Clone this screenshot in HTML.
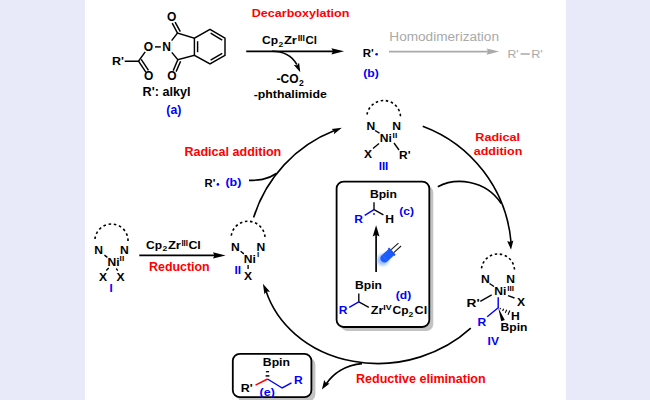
<!DOCTYPE html>
<html><head><meta charset="utf-8">
<style>
html,body{margin:0;padding:0;width:650px;height:400px;overflow:hidden;background:#e8eaf9}
svg{display:block}
text{font-family:"Liberation Sans",sans-serif;font-weight:bold}
</style></head><body>
<svg width="650" height="400" viewBox="0 0 650 400">
<defs><filter id="blur1" x="-80%" y="-80%" width="260%" height="260%"><feGaussianBlur stdDeviation="1.5"/></filter></defs>
<rect width="650" height="400" fill="#e8eaf9"/>
<rect x="85" y="0" width="481" height="400" fill="#fff"/>
<path d="M124.70,61.20 L138.50,61.20 L145.20,51.90" stroke="#000" stroke-width="1.45" fill="none"/>
<path d="M138.50,61.20 L146.00,72.30" stroke="#000" stroke-width="1.45" fill="none"/>
<path d="M141.20,59.40 L148.50,70.30" stroke="#000" stroke-width="1.45" fill="none"/>
<path d="M155.00,46.90 L160.80,46.90" stroke="#000" stroke-width="1.45" fill="none"/>
<path d="M171.60,40.60 L177.50,33.10 L194.40,38.10 L210.00,29.40 L225.00,38.10 L225.00,55.30 L210.00,63.90 L194.40,55.30 L177.80,59.80 L171.80,52.40" stroke="#000" stroke-width="1.45" fill="none"/>
<path d="M194.40,38.10 L194.40,55.30" stroke="#000" stroke-width="1.45" fill="none"/>
<path d="M197.60,41.20 L197.60,52.20" stroke="#000" stroke-width="1.45" fill="none"/>
<path d="M210.60,33.20 L222.20,40.10" stroke="#000" stroke-width="1.45" fill="none"/>
<path d="M222.20,53.30 L210.60,60.10" stroke="#000" stroke-width="1.45" fill="none"/>
<path d="M177.50,33.10 L172.20,23.10" stroke="#000" stroke-width="1.45" fill="none"/>
<path d="M180.30,31.60 L175.10,22.10" stroke="#000" stroke-width="1.45" fill="none"/>
<path d="M177.80,59.80 L173.20,70.60" stroke="#000" stroke-width="1.45" fill="none"/>
<path d="M180.60,61.20 L176.10,71.60" stroke="#000" stroke-width="1.45" fill="none"/>
<text x="171.60" y="21.20" font-size="12" fill="#000" text-anchor="middle">O</text>
<text x="148.40" y="50.80" font-size="12" fill="#000" text-anchor="middle">O</text>
<text x="148.75" y="80.00" font-size="12" fill="#000" text-anchor="middle">O</text>
<text x="171.90" y="80.00" font-size="12" fill="#000" text-anchor="middle">O</text>
<text x="166.60" y="50.60" font-size="12" fill="#000" text-anchor="middle">N</text>
<text x="111.90" y="65.00" font-size="11" fill="#000" textLength="12" lengthAdjust="spacingAndGlyphs">R'</text>
<text x="142.60" y="96.40" font-size="12" fill="#000" textLength="48" lengthAdjust="spacingAndGlyphs">R': alkyl</text>
<text x="166.30" y="114.00" font-size="12" fill="#0000ff" textLength="15" lengthAdjust="spacingAndGlyphs">(a)</text>
<text x="251.80" y="16.80" font-size="11.5" fill="#ff0000" textLength="97.6" lengthAdjust="spacingAndGlyphs">Decarboxylation</text>
<text x="262.00" y="43.90" font-size="11" fill="#000" textLength="16" lengthAdjust="spacingAndGlyphs">Cp</text>
<text x="278.40" y="46.50" font-size="7.8" fill="#000" textLength="4.77" lengthAdjust="spacingAndGlyphs">2</text>
<text x="283.90" y="43.90" font-size="11" fill="#000" textLength="13" lengthAdjust="spacingAndGlyphs">Zr</text>
<text x="297.70" y="40.80" font-size="8.3" fill="#000" textLength="7.2" lengthAdjust="spacingAndGlyphs">III</text>
<text x="305.60" y="43.90" font-size="11" fill="#000" textLength="11.4" lengthAdjust="spacingAndGlyphs">Cl</text>
<path d="M246.20,51.30 L334.00,51.30" stroke="#000" stroke-width="1.7" fill="none"/>
<path transform="translate(344.1,51.3) rotate(0.00)" d="M0,0 L-12.7,-3.1 L-11.2,0 L-12.7,3.1 Z" fill="#000"/>
<path d="M272,51.3 C284,51.3 292,56 296.8,64.5" stroke="#000" stroke-width="1.6" fill="none"/>
<path transform="translate(300.3,72.2) rotate(65.22)" d="M0,0 L-9.2,-2.9 L-7.6,0 L-9.2,2.9 Z" fill="#000"/>
<text x="276.50" y="83.30" font-size="12" fill="#000" textLength="22" lengthAdjust="spacingAndGlyphs">-CO</text>
<text x="298.90" y="85.50" font-size="8.2" fill="#000" textLength="4.79" lengthAdjust="spacingAndGlyphs">2</text>
<text x="253.70" y="97.50" font-size="11" fill="#000" textLength="73.1" lengthAdjust="spacingAndGlyphs">-phthalimide</text>
<text x="362.70" y="57.00" font-size="11" fill="#000" textLength="11" lengthAdjust="spacingAndGlyphs">R'</text>
<circle cx="376.6" cy="54.2" r="1.3" fill="#0000ff"/>
<text x="363.20" y="77.00" font-size="11" fill="#0000ff" textLength="15.6" lengthAdjust="spacingAndGlyphs">(b)</text>
<text x="389.30" y="41.00" font-size="12" fill="#a9a9a9" textLength="109.7" lengthAdjust="spacingAndGlyphs" style="font-weight:normal">Homodimerization</text>
<path d="M389.00,51.60 L489.00,51.60" stroke="#a9a9a9" stroke-width="1.8" fill="none"/>
<path transform="translate(499.2,51.6) rotate(0.00)" d="M0,0 L-12.7,-3.1 L-11,0 L-12.7,3.1 Z" fill="#a9a9a9"/>
<text x="507.50" y="58.30" font-size="11.5" fill="#a9a9a9" textLength="11.2" lengthAdjust="spacingAndGlyphs" style="font-weight:normal">R'</text>
<path d="M520.60,54.00 L529.80,54.00" stroke="#a9a9a9" stroke-width="1.5" fill="none"/>
<text x="531.20" y="58.30" font-size="11.5" fill="#a9a9a9" textLength="11.6" lengthAdjust="spacingAndGlyphs" style="font-weight:normal">R'</text>
<path d="M367,114.5 A16.90,16.90 0 0 1 400.5,116.2" pathLength="100" stroke="#000" stroke-width="1.6" fill="none" stroke-dasharray="5.141 5.398"/>
<text x="371.00" y="130.00" font-size="11" fill="#000" text-anchor="middle" textLength="8.74" lengthAdjust="spacingAndGlyphs">N</text>
<text x="396.75" y="130.00" font-size="11" fill="#000" text-anchor="middle" textLength="8.74" lengthAdjust="spacingAndGlyphs">N</text>
<text x="385.70" y="142.00" font-size="11" fill="#000" text-anchor="middle" textLength="12.1" lengthAdjust="spacingAndGlyphs">Ni</text>
<text x="392.60" y="137.50" font-size="8" fill="#000" textLength="4.6" lengthAdjust="spacingAndGlyphs">II</text>
<path d="M375.00,130.50 L379.50,133.20" stroke="#000" stroke-width="1.35" fill="none"/>
<path d="M379.00,143.50 L373.00,148.50" stroke="#000" stroke-width="1.35" fill="none"/>
<path d="M394.00,143.00 L399.00,150.00" stroke="#000" stroke-width="1.35" fill="none"/>
<text x="368.00" y="158.10" font-size="11" fill="#000" text-anchor="middle" textLength="8.07" lengthAdjust="spacingAndGlyphs">X</text>
<text x="399.00" y="158.90" font-size="11" fill="#000" textLength="11.5" lengthAdjust="spacingAndGlyphs">R'</text>
<text x="383.50" y="169.60" font-size="11" fill="#0000ff" text-anchor="middle" textLength="9.6" lengthAdjust="spacingAndGlyphs">III</text>
<text x="475.30" y="141.20" font-size="11.5" fill="#ff0000" textLength="44.8" lengthAdjust="spacingAndGlyphs">Radical</text>
<text x="473.70" y="154.80" font-size="11.5" fill="#ff0000" textLength="48.6" lengthAdjust="spacingAndGlyphs">addition</text>
<path d="M481.5,268.4 A16.59,16.59 0 0 1 514.5,269.5" pathLength="100" stroke="#000" stroke-width="1.6" fill="none" stroke-dasharray="5.141 5.398"/>
<text x="485.35" y="283.10" font-size="11" fill="#000" text-anchor="middle" textLength="8.74" lengthAdjust="spacingAndGlyphs">N</text>
<text x="510.75" y="283.10" font-size="11" fill="#000" text-anchor="middle" textLength="8.74" lengthAdjust="spacingAndGlyphs">N</text>
<text x="500.40" y="294.50" font-size="11" fill="#000" text-anchor="middle" textLength="12.1" lengthAdjust="spacingAndGlyphs">Ni</text>
<text x="507.20" y="290.60" font-size="8" fill="#000" textLength="6.8" lengthAdjust="spacingAndGlyphs">III</text>
<path d="M489.50,283.50 L494.00,286.50" stroke="#000" stroke-width="1.35" fill="none"/>
<path d="M480.30,301.30 L491.70,294.80" stroke="#000" stroke-width="1.35" fill="none"/>
<path d="M508.00,295.60 L514.50,298.00" stroke="#000" stroke-width="1.35" fill="none"/>
<text x="521.00" y="306.00" font-size="11" fill="#000" text-anchor="middle" textLength="8.07" lengthAdjust="spacingAndGlyphs">X</text>
<text x="466.50" y="307.00" font-size="11" fill="#000" textLength="13.2" lengthAdjust="spacingAndGlyphs">R'</text>
<path d="M498.20,297.20 L498.20,307.70 L487.20,316.80" stroke="#0000ff" stroke-width="1.45" fill="none"/>
<text x="482.00" y="325.60" font-size="11" fill="#0000ff" text-anchor="middle" textLength="8.74" lengthAdjust="spacingAndGlyphs">R</text>
<path d="M500.54,307.95 L499.92,309.31" stroke="#000" stroke-width="1.1" fill="none"/>
<path d="M503.65,308.82 L502.61,311.09" stroke="#000" stroke-width="1.1" fill="none"/>
<path d="M506.76,309.69 L505.30,312.87" stroke="#000" stroke-width="1.1" fill="none"/>
<path d="M509.87,310.56 L507.99,314.65" stroke="#000" stroke-width="1.1" fill="none"/>
<text x="515.50" y="319.60" font-size="11" fill="#000" text-anchor="middle" textLength="8.74" lengthAdjust="spacingAndGlyphs">H</text>
<path d="M498.2,307.7 L501.22,321.26 L504.78,319.94 Z" fill="#000"/>
<text x="500.60" y="330.50" font-size="11" fill="#000" textLength="26.9" lengthAdjust="spacingAndGlyphs">Bpin</text>
<text x="493.25" y="345.10" font-size="11" fill="#0000ff" text-anchor="middle" textLength="11.4" lengthAdjust="spacingAndGlyphs">IV</text>
<text x="184.40" y="156.30" font-size="12" fill="#ff0000" textLength="96.9" lengthAdjust="spacingAndGlyphs">Radical addition</text>
<text x="204.60" y="187.30" font-size="11" fill="#000" textLength="10.8" lengthAdjust="spacingAndGlyphs">R'</text>
<circle cx="217.9" cy="184.4" r="1.3" fill="#0000ff"/>
<text x="225.40" y="186.00" font-size="11" fill="#0000ff" textLength="16" lengthAdjust="spacingAndGlyphs">(b)</text>
<path d="M95,239 A16.54,16.54 0 0 1 128,241" pathLength="100" stroke="#000" stroke-width="1.6" fill="none" stroke-dasharray="5.141 5.398"/>
<text x="98.75" y="253.75" font-size="11" fill="#000" text-anchor="middle" textLength="8.74" lengthAdjust="spacingAndGlyphs">N</text>
<text x="124.35" y="253.75" font-size="11" fill="#000" text-anchor="middle" textLength="8.74" lengthAdjust="spacingAndGlyphs">N</text>
<text x="113.45" y="266.00" font-size="11" fill="#000" text-anchor="middle" textLength="12.1" lengthAdjust="spacingAndGlyphs">Ni</text>
<text x="119.60" y="261.40" font-size="8" fill="#000" textLength="4.6" lengthAdjust="spacingAndGlyphs">II</text>
<path d="M104.40,255.10 L107.40,257.40" stroke="#000" stroke-width="1.35" fill="none"/>
<path d="M108.75,268.10 L106.25,270.60" stroke="#000" stroke-width="1.35" fill="none"/>
<path d="M116.25,268.50 L117.75,270.60" stroke="#000" stroke-width="1.35" fill="none"/>
<text x="102.95" y="280.60" font-size="11" fill="#000" text-anchor="middle" textLength="8.07" lengthAdjust="spacingAndGlyphs">X</text>
<text x="120.65" y="280.60" font-size="11" fill="#000" text-anchor="middle" textLength="8.07" lengthAdjust="spacingAndGlyphs">X</text>
<text x="111.10" y="292.00" font-size="11" fill="#0000ff" text-anchor="middle" textLength="3.2" lengthAdjust="spacingAndGlyphs">I</text>
<text x="146.10" y="249.20" font-size="11" fill="#000" textLength="16" lengthAdjust="spacingAndGlyphs">Cp</text>
<text x="162.50" y="251.40" font-size="7.8" fill="#000" textLength="4.77" lengthAdjust="spacingAndGlyphs">2</text>
<text x="167.90" y="249.20" font-size="11" fill="#000" textLength="13" lengthAdjust="spacingAndGlyphs">Zr</text>
<text x="181.40" y="246.20" font-size="8.3" fill="#000" textLength="6.6" lengthAdjust="spacingAndGlyphs">III</text>
<text x="188.40" y="249.20" font-size="11" fill="#000" textLength="12.4" lengthAdjust="spacingAndGlyphs">Cl</text>
<path d="M139.30,255.40 L216.00,255.40" stroke="#000" stroke-width="1.7" fill="none"/>
<path transform="translate(225.6,255.4) rotate(0.00)" d="M0,0 L-12.6,-3.1 L-11.2,0 L-12.6,3.1 Z" fill="#000"/>
<text x="149.10" y="270.70" font-size="12" fill="#ff0000" textLength="60.6" lengthAdjust="spacingAndGlyphs">Reduction</text>
<path d="M231.25,235.6 A17.01,17.01 0 0 1 265,236.9" pathLength="100" stroke="#000" stroke-width="1.6" fill="none" stroke-dasharray="5.141 5.398"/>
<text x="235.45" y="250.60" font-size="11" fill="#000" text-anchor="middle" textLength="8.74" lengthAdjust="spacingAndGlyphs">N</text>
<text x="261.00" y="250.60" font-size="11" fill="#000" text-anchor="middle" textLength="8.74" lengthAdjust="spacingAndGlyphs">N</text>
<text x="249.90" y="263.10" font-size="11" fill="#000" text-anchor="middle" textLength="12.1" lengthAdjust="spacingAndGlyphs">Ni</text>
<text x="256.90" y="257.20" font-size="8" fill="#000" textLength="2.2" lengthAdjust="spacingAndGlyphs">I</text>
<path d="M240.60,251.25 L243.90,253.90" stroke="#000" stroke-width="1.35" fill="none"/>
<path d="M248.10,265.00 L248.10,268.90" stroke="#000" stroke-width="1.35" fill="none"/>
<text x="248.15" y="279.75" font-size="11" fill="#000" text-anchor="middle" textLength="8.07" lengthAdjust="spacingAndGlyphs">X</text>
<text x="237.80" y="273.60" font-size="11" fill="#0000ff" text-anchor="middle" textLength="6.6" lengthAdjust="spacingAndGlyphs">II</text>
<path d="M253.6,217.6 A136.9,136.9 0 0 1 334.5,130.6" stroke="#000" stroke-width="1.6" fill="none"/>
<path transform="translate(341.9,127.8) rotate(-22.97)" d="M0,0 L-10,-2.9 L-8.2,0 L-10,2.9 Z" fill="#000"/>
<path d="M249,180.4 C258,180.4 267,180 276.3,173.5" stroke="#000" stroke-width="1.6" fill="none"/>
<path d="M422.7,126.2 A136.5,136.5 0 0 1 511,242" stroke="#000" stroke-width="1.6" fill="none"/>
<path transform="translate(511,249.8) rotate(85.43)" d="M0,0 L-9.2,-3.1 L-7.8,0 L-9.2,3.1 Z" fill="#000"/>
<path d="M437.8,186.8 C455,177.5 485,179 501.2,203.5" stroke="#000" stroke-width="1.6" fill="none"/>
<path d="M470.8,328.2 A123.6,107.1 -10.95 0 1 266,291" stroke="#000" stroke-width="1.6" fill="none"/>
<path transform="translate(262.9,283.8) rotate(-115.02)" d="M0,0 L-10.2,-3.1 L-8.5,0 L-10.2,3.1 Z" fill="#000"/>
<path d="M362,363.6 C345,365 333,374 326.5,383.5" stroke="#000" stroke-width="1.6" fill="none"/>
<path transform="translate(321.9,389.4) rotate(122.91)" d="M0,0 L-9.2,-3.2 L-7.6,0 L-9.2,3.2 Z" fill="#000"/>
<rect x="340.6" y="185.6" width="92.7" height="145.4" rx="7" fill="#c2c2c2"/>
<rect x="336.6" y="181.6" width="92.7" height="145.4" rx="7" fill="#fff" stroke="#000" stroke-width="1.8"/>
<text x="369.90" y="197.90" font-size="11" fill="#000" textLength="27" lengthAdjust="spacingAndGlyphs">Bpin</text>
<path d="M374.00,202.20 L374.00,209.70 L383.40,214.90" stroke="#000" stroke-width="1.35" fill="none"/>
<path d="M374.00,209.70 L364.70,215.30" stroke="#0000ff" stroke-width="1.4" fill="none"/>
<circle cx="374" cy="214" r="0.9" fill="#0000ff"/>
<text x="358.60" y="222.80" font-size="11" fill="#0000ff" text-anchor="middle" textLength="8.74" lengthAdjust="spacingAndGlyphs">R</text>
<text x="389.75" y="222.80" font-size="11" fill="#000" text-anchor="middle" textLength="8.74" lengthAdjust="spacingAndGlyphs">H</text>
<text x="399.30" y="214.50" font-size="11" fill="#0000ff" textLength="14.7" lengthAdjust="spacingAndGlyphs">(c)</text>
<path d="M376.10,234.00 L376.10,272.00" stroke="#000" stroke-width="1.7" fill="none"/>
<path transform="translate(376.1,225.3) rotate(-90.00)" d="M0,0 L-11.3,-3.4 L-9.5,0 L-11.3,3.4 Z" fill="#000"/>
<g transform="translate(387.5,255.6) rotate(-42)"><ellipse cx="-6" cy="0" rx="6" ry="5.5" fill="#6d9bff" opacity="0.7" filter="url(#blur1)"/><path d="M5.6,-4.2 L-4,-4.2 A4.2,4.2 0 0 0 -4,4.2 L5.6,4.2 Z" fill="#1c5cff"/><path d="M-3.5,-4.2 L-3.5,4.2" stroke="#4a80ff" stroke-width="0.8" opacity="0.6"/><rect x="4.8" y="-4.9" width="1.9" height="9.8" fill="#1a52e8"/><path d="M6.7,-1.95 L16.5,-1.95 M6.7,1.95 L16.5,1.95" stroke="#1a1a1a" stroke-width="1.05"/></g>
<text x="355.00" y="289.20" font-size="11" fill="#000" textLength="26.9" lengthAdjust="spacingAndGlyphs">Bpin</text>
<path d="M358.80,293.50 L358.80,301.90 L368.80,307.30" stroke="#000" stroke-width="1.35" fill="none"/>
<path d="M358.80,301.90 L349.20,307.30" stroke="#0000ff" stroke-width="1.4" fill="none"/>
<text x="343.20" y="314.20" font-size="11" fill="#0000ff" text-anchor="middle" textLength="8.74" lengthAdjust="spacingAndGlyphs">R</text>
<text x="370.70" y="314.20" font-size="11" fill="#000" textLength="12.6" lengthAdjust="spacingAndGlyphs">Zr</text>
<text x="383.30" y="309.80" font-size="7.5" fill="#000" textLength="8.4" lengthAdjust="spacingAndGlyphs">IV</text>
<text x="392.50" y="314.20" font-size="11" fill="#000" textLength="16" lengthAdjust="spacingAndGlyphs">Cp</text>
<text x="408.60" y="316.80" font-size="7.8" fill="#000" textLength="4.77" lengthAdjust="spacingAndGlyphs">2</text>
<text x="414.60" y="314.20" font-size="11" fill="#000" textLength="12.6" lengthAdjust="spacingAndGlyphs">Cl</text>
<text x="395.80" y="298.80" font-size="11" fill="#0000ff" textLength="15.4" lengthAdjust="spacingAndGlyphs">(d)</text>
<rect x="236.8" y="357.8" width="78.6" height="43.4" rx="7" fill="#c2c2c2"/>
<rect x="232.8" y="353.8" width="78.6" height="43.4" rx="7" fill="#fff" stroke="#000" stroke-width="1.8"/>
<text x="262.80" y="366.20" font-size="11" fill="#000" textLength="27.2" lengthAdjust="spacingAndGlyphs">Bpin</text>
<path d="M265.90,371.70 L269.10,371.70" stroke="#000" stroke-width="1.3" fill="none"/>
<path d="M265.60,375.90 L269.40,375.90" stroke="#000" stroke-width="1.5" fill="none"/>
<path d="M267.50,379.00 L255.50,385.20" stroke="#ff0000" stroke-width="1.45" fill="none"/>
<path d="M267.50,379.00 L282.20,388.00 L291.50,382.80" stroke="#0000ff" stroke-width="1.45" fill="none"/>
<text x="240.70" y="391.60" font-size="11" fill="#000" textLength="12" lengthAdjust="spacingAndGlyphs">R'</text>
<text x="298.35" y="383.75" font-size="11" fill="#0000ff" text-anchor="middle" textLength="8.74" lengthAdjust="spacingAndGlyphs">R</text>
<text x="259.60" y="396.30" font-size="11.5" fill="#0000ff" textLength="15.2" lengthAdjust="spacingAndGlyphs">(e)</text>
<text x="356.00" y="382.60" font-size="12" fill="#ff0000" textLength="129.7" lengthAdjust="spacingAndGlyphs">Reductive elimination</text>
</svg>
</body></html>
